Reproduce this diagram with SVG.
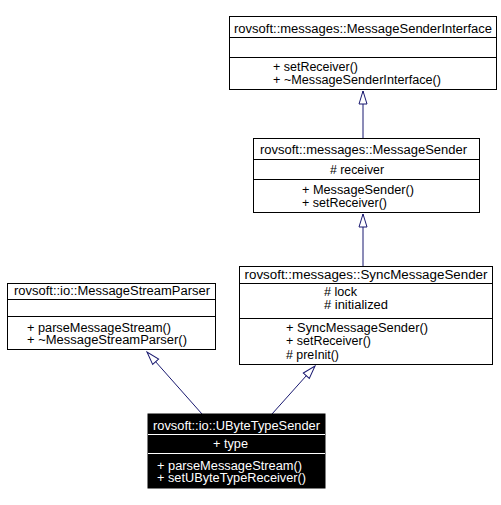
<svg xmlns="http://www.w3.org/2000/svg" width="501" height="505" viewBox="0 0 501 505">
<defs>
<style>
.box{fill:#ffffff;stroke:#000000;stroke-width:1}
.sep{stroke:#000000;stroke-width:1}
.dark{fill:#000000;stroke:#000000;stroke-width:1}
.wsep{stroke:#ffffff;stroke-width:1}
text{font-family:"Liberation Sans",Arial,sans-serif;font-size:12.5px;fill:#000000}
.c{text-anchor:middle}
.w{fill:#ffffff}
.edge{fill:none;stroke:#191970;stroke-width:1}
</style>
<marker id="inh" markerUnits="userSpaceOnUse" markerWidth="16" markerHeight="12" viewBox="-1 -6 16 12" refX="13" refY="0" orient="auto">
<path d="M0,-4 L13,0 L0,4 Z" fill="#ffffff" stroke="#191970" stroke-width="1"/>
</marker>
</defs>
<rect width="501" height="505" fill="#ffffff"/>
<g id="connectors">
<path class="edge" d="M363,138 L363,91" marker-end="url(#inh)"/>
<path class="edge" d="M363,266 L363,214" marker-end="url(#inh)"/>
<path class="edge" d="M202,414 L147,352" marker-end="url(#inh)"/>
<path class="edge" d="M272,414 L315,366" marker-end="url(#inh)"/>
</g>
<g id="MessageSenderInterface">
<rect class="box" x="229.5" y="16.5" width="267" height="73"/>
<line class="sep" x1="229.5" y1="37.5" x2="496.5" y2="37.5"/>
<line class="sep" x1="229.5" y1="57.5" x2="496.5" y2="57.5"/>
<text class="c" x="363" y="32.5" textLength="258" lengthAdjust="spacingAndGlyphs">rovsoft::messages::MessageSenderInterface</text>
<text x="273" y="71" textLength="85" lengthAdjust="spacingAndGlyphs">+ setReceiver()</text>
<text x="273" y="84" textLength="168" lengthAdjust="spacingAndGlyphs">+ ~MessageSenderInterface()</text>
</g>
<g id="MessageSender">
<rect class="box" x="253.5" y="138.5" width="226" height="74"/>
<line class="sep" x1="253.5" y1="159.5" x2="479.5" y2="159.5"/>
<line class="sep" x1="253.5" y1="179.5" x2="479.5" y2="179.5"/>
<text class="c" x="363.5" y="154" textLength="207" lengthAdjust="spacingAndGlyphs">rovsoft::messages::MessageSender</text>
<text x="330" y="173.5" textLength="54" lengthAdjust="spacingAndGlyphs"># receiver</text>
<text x="302" y="194" textLength="112" lengthAdjust="spacingAndGlyphs">+ MessageSender()</text>
<text x="302" y="207" textLength="85" lengthAdjust="spacingAndGlyphs">+ setReceiver()</text>
</g>
<g id="SyncMessageSender">
<rect class="box" x="239.5" y="266.5" width="253" height="98"/>
<line class="sep" x1="239.5" y1="283.5" x2="492.5" y2="283.5"/>
<line class="sep" x1="239.5" y1="318.5" x2="492.5" y2="318.5"/>
<text class="c" x="366" y="279" textLength="243" lengthAdjust="spacingAndGlyphs">rovsoft::messages::SyncMessageSender</text>
<text x="324" y="295.5" textLength="33" lengthAdjust="spacingAndGlyphs"># lock</text>
<text x="324" y="309" textLength="64" lengthAdjust="spacingAndGlyphs"># initialized</text>
<text x="286" y="332" textLength="142" lengthAdjust="spacingAndGlyphs">+ SyncMessageSender()</text>
<text x="286" y="345" textLength="85" lengthAdjust="spacingAndGlyphs">+ setReceiver()</text>
<text x="286" y="358.5" textLength="53" lengthAdjust="spacingAndGlyphs"># preInit()</text>
</g>
<g id="MessageStreamParser">
<rect class="box" x="7.5" y="283.5" width="208" height="66"/>
<line class="sep" x1="7.5" y1="299.5" x2="215.5" y2="299.5"/>
<line class="sep" x1="7.5" y1="316.5" x2="215.5" y2="316.5"/>
<text class="c" x="112" y="295" textLength="196" lengthAdjust="spacingAndGlyphs">rovsoft::io::MessageStreamParser</text>
<text x="27" y="331.5" textLength="144" lengthAdjust="spacingAndGlyphs">+ parseMessageStream()</text>
<text x="27" y="344" textLength="160" lengthAdjust="spacingAndGlyphs">+ ~MessageStreamParser()</text>
</g>
<g id="UByteTypeSender">
<rect class="dark" x="148" y="414" width="177" height="74"/>
<line class="wsep" x1="148" y1="434.5" x2="325" y2="434.5"/>
<line class="wsep" x1="148" y1="453.5" x2="325" y2="453.5"/>
<text class="c w" x="236.5" y="430" textLength="167" lengthAdjust="spacingAndGlyphs">rovsoft::io::UByteTypeSender</text>
<text class="w" x="213" y="448" textLength="35" lengthAdjust="spacingAndGlyphs">+ type</text>
<text class="w" x="157" y="469.5" textLength="145" lengthAdjust="spacingAndGlyphs">+ parseMessageStream()</text>
<text class="w" x="157" y="482" textLength="149" lengthAdjust="spacingAndGlyphs">+ setUByteTypeReceiver()</text>
</g>
</svg>
